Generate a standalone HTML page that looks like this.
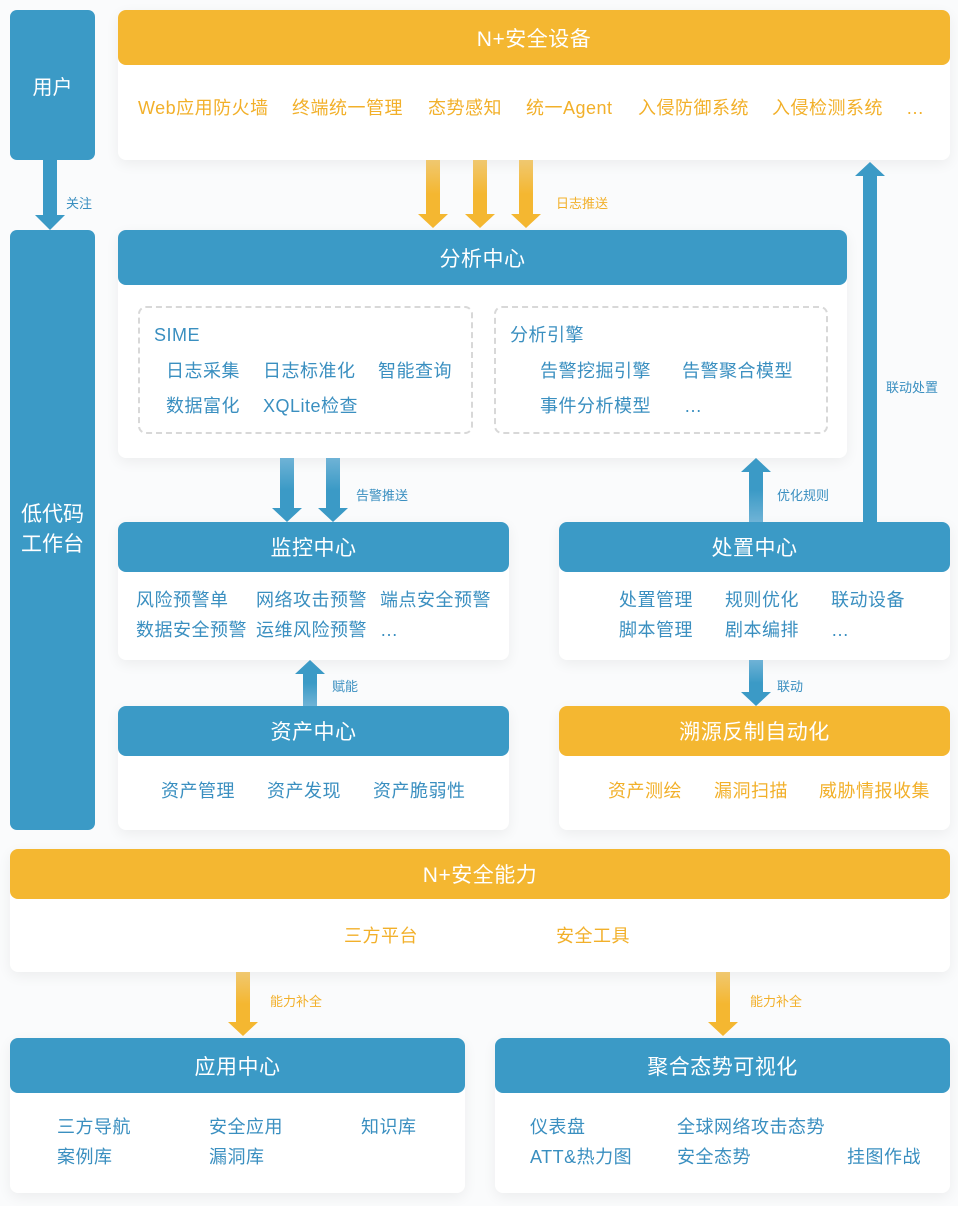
<!DOCTYPE html>
<html><head><meta charset="utf-8"><style>
*{margin:0;padding:0;box-sizing:border-box}
body{width:958px;height:1206px;background:#fafbfc;position:relative;overflow:hidden;font-family:"Liberation Sans","Noto Sans CJK SC",sans-serif}
.a{position:absolute}
.card{position:absolute;background:#fff;border-radius:8px;box-shadow:0 4px 14px rgba(0,0,0,0.06)}
.hb,.ho{position:absolute;left:0;right:0;top:0;border-radius:8px;color:#fff;font-size:21px;letter-spacing:0.5px;display:flex;align-items:center;justify-content:center}
.hb{background:#3b9ac6}.ho{background:#f4b731}
.t{position:absolute;font-size:18px;letter-spacing:0.5px;color:#3a8fc0;white-space:nowrap;line-height:20px}
.o{color:#f2b02a}
.l{position:absolute;font-size:13px;color:#3a8fc0;white-space:nowrap}
.lo{color:#f2b02a}
.dash{position:absolute;border:2px dashed #d8d8d8;border-radius:8px}
</style></head><body>
<div class="a" style="left:10px;top:10px;width:85px;height:150px;background:#3b9ac6;border-radius:7px;color:#fff;font-size:20px;display:flex;align-items:center;justify-content:center">用户</div>
<div class="a" style="left:10px;top:230px;width:85px;height:600px;background:#3b9ac6;border-radius:7px;color:#fff;font-size:21px;display:flex;align-items:center;justify-content:center;text-align:center;line-height:30px">低代码<br>工作台</div>

<div class="card" style="left:118px;top:10px;width:832px;height:150px"><div class="ho" style="height:55px">N+安全设备</div></div>
<div class="t o" style="left:138px;top:98px">Web应用防火墙</div>
<div class="t o" style="left:292px;top:98px">终端统一管理</div>
<div class="t o" style="left:428px;top:98px">态势感知</div>
<div class="t o" style="left:526px;top:98px">统一Agent</div>
<div class="t o" style="left:638px;top:98px">入侵防御系统</div>
<div class="t o" style="left:772px;top:98px">入侵检测系统</div>
<div class="t o" style="left:906px;top:98px">…</div>

<div class="card" style="left:118px;top:230px;width:729px;height:228px"><div class="hb" style="height:55px">分析中心</div></div>
<div class="dash" style="left:138px;top:306px;width:335px;height:128px"></div>
<div class="dash" style="left:494px;top:306px;width:334px;height:128px"></div>
<div class="t" style="left:154px;top:325px">SIME</div>
<div class="t" style="left:166px;top:361px">日志采集</div>
<div class="t" style="left:263px;top:361px">日志标准化</div>
<div class="t" style="left:378px;top:361px">智能查询</div>
<div class="t" style="left:166px;top:396px">数据富化</div>
<div class="t" style="left:263px;top:396px">XQLite检查</div>
<div class="t" style="left:510px;top:325px">分析引擎</div>
<div class="t" style="left:540px;top:361px">告警挖掘引擎</div>
<div class="t" style="left:682px;top:361px">告警聚合模型</div>
<div class="t" style="left:540px;top:396px">事件分析模型</div>
<div class="t" style="left:684px;top:396px">…</div>

<div class="card" style="left:118px;top:522px;width:391px;height:138px"><div class="hb" style="height:50px">监控中心</div></div>
<div class="t" style="left:136px;top:590px">风险预警单</div>
<div class="t" style="left:256px;top:590px">网络攻击预警</div>
<div class="t" style="left:380px;top:590px">端点安全预警</div>
<div class="t" style="left:136px;top:620px">数据安全预警</div>
<div class="t" style="left:256px;top:620px">运维风险预警</div>
<div class="t" style="left:380px;top:620px">…</div>

<div class="card" style="left:559px;top:522px;width:391px;height:138px"><div class="hb" style="height:50px">处置中心</div></div>
<div class="t" style="left:619px;top:590px">处置管理</div>
<div class="t" style="left:725px;top:590px">规则优化</div>
<div class="t" style="left:831px;top:590px">联动设备</div>
<div class="t" style="left:619px;top:620px">脚本管理</div>
<div class="t" style="left:725px;top:620px">剧本编排</div>
<div class="t" style="left:831px;top:620px">…</div>

<div class="card" style="left:118px;top:706px;width:391px;height:124px"><div class="hb" style="height:50px">资产中心</div></div>
<div class="t" style="left:161px;top:781px">资产管理</div>
<div class="t" style="left:267px;top:781px">资产发现</div>
<div class="t" style="left:373px;top:781px">资产脆弱性</div>

<div class="card" style="left:559px;top:706px;width:391px;height:124px"><div class="ho" style="height:50px">溯源反制自动化</div></div>
<div class="t o" style="left:608px;top:781px">资产测绘</div>
<div class="t o" style="left:714px;top:781px">漏洞扫描</div>
<div class="t o" style="left:819px;top:781px">威胁情报收集</div>

<div class="card" style="left:10px;top:849px;width:940px;height:123px"><div class="ho" style="height:50px">N+安全能力</div></div>
<div class="t o" style="left:344px;top:926px">三方平台</div>
<div class="t o" style="left:556px;top:926px">安全工具</div>

<div class="card" style="left:10px;top:1038px;width:455px;height:155px"><div class="hb" style="height:55px">应用中心</div></div>
<div class="t" style="left:57px;top:1117px">三方导航</div>
<div class="t" style="left:209px;top:1117px">安全应用</div>
<div class="t" style="left:361px;top:1117px">知识库</div>
<div class="t" style="left:57px;top:1147px">案例库</div>
<div class="t" style="left:209px;top:1147px">漏洞库</div>

<div class="card" style="left:495px;top:1038px;width:455px;height:155px"><div class="hb" style="height:55px">聚合态势可视化</div></div>
<div class="t" style="left:530px;top:1117px">仪表盘</div>
<div class="t" style="left:677px;top:1117px">全球网络攻击态势</div>
<div class="t" style="left:530px;top:1147px">ATT&amp;热力图</div>
<div class="t" style="left:677px;top:1147px">安全态势</div>
<div class="t" style="left:847px;top:1147px">挂图作战</div>

<svg class="a" style="left:0;top:0" width="958" height="1206">
<defs>
<linearGradient id="bd" x1="0" y1="0" x2="0" y2="1"><stop offset="0" stop-color="#6fb3d6"/><stop offset="0.5" stop-color="#3b9ac6"/></linearGradient>
<linearGradient id="bu" x1="0" y1="1" x2="0" y2="0"><stop offset="0" stop-color="#6fb3d6"/><stop offset="0.5" stop-color="#3b9ac6"/></linearGradient>
<linearGradient id="od" x1="0" y1="0" x2="0" y2="1"><stop offset="0" stop-color="#f0c870"/><stop offset="0.5" stop-color="#f4b731"/></linearGradient>
</defs>
<g fill="#3b9ac6">
<path d="M43,160h14v55h8l-15,15l-15,-15h8z"/>
</g>
<g fill="url(#od)">
<path d="M426,160h14v54h8l-15,14l-15,-14h8z"/>
<path d="M473,160h14v54h8l-15,14l-15,-14h8z"/>
<path d="M519,160h14v54h8l-15,14l-15,-14h8z"/>
<path d="M236,972h14v50h8l-15,14l-15,-14h8z"/>
<path d="M716,972h14v50h8l-15,14l-15,-14h8z"/>
</g>
<g fill="url(#bd)">
<path d="M280,458h14v50h8l-15,14l-15,-14h8z"/>
<path d="M326,458h14v50h8l-15,14l-15,-14h8z"/>
<path d="M749,660h14v32h8l-15,14l-15,-14h8z"/>
</g>
<g fill="url(#bu)">
<path d="M749,522h14v-50h8l-15,-14l-15,14h8z"/>
<path d="M303,706h14v-32h8l-15,-14l-15,14h8z"/>
</g>
<path fill="#3b9ac6" d="M863,522h14v-346h8l-15,-14l-15,14h8z"/>
</svg>
<div class="l" style="left:66px;top:193px">关注</div>
<div class="l lo" style="left:556px;top:193px">日志推送</div>
<div class="l" style="left:886px;top:377px">联动处置</div>
<div class="l" style="left:356px;top:485px">告警推送</div>
<div class="l" style="left:777px;top:485px">优化规则</div>
<div class="l" style="left:332px;top:676px">赋能</div>
<div class="l" style="left:777px;top:676px">联动</div>
<div class="l lo" style="left:270px;top:991px">能力补全</div>
<div class="l lo" style="left:750px;top:991px">能力补全</div>
</body></html>
